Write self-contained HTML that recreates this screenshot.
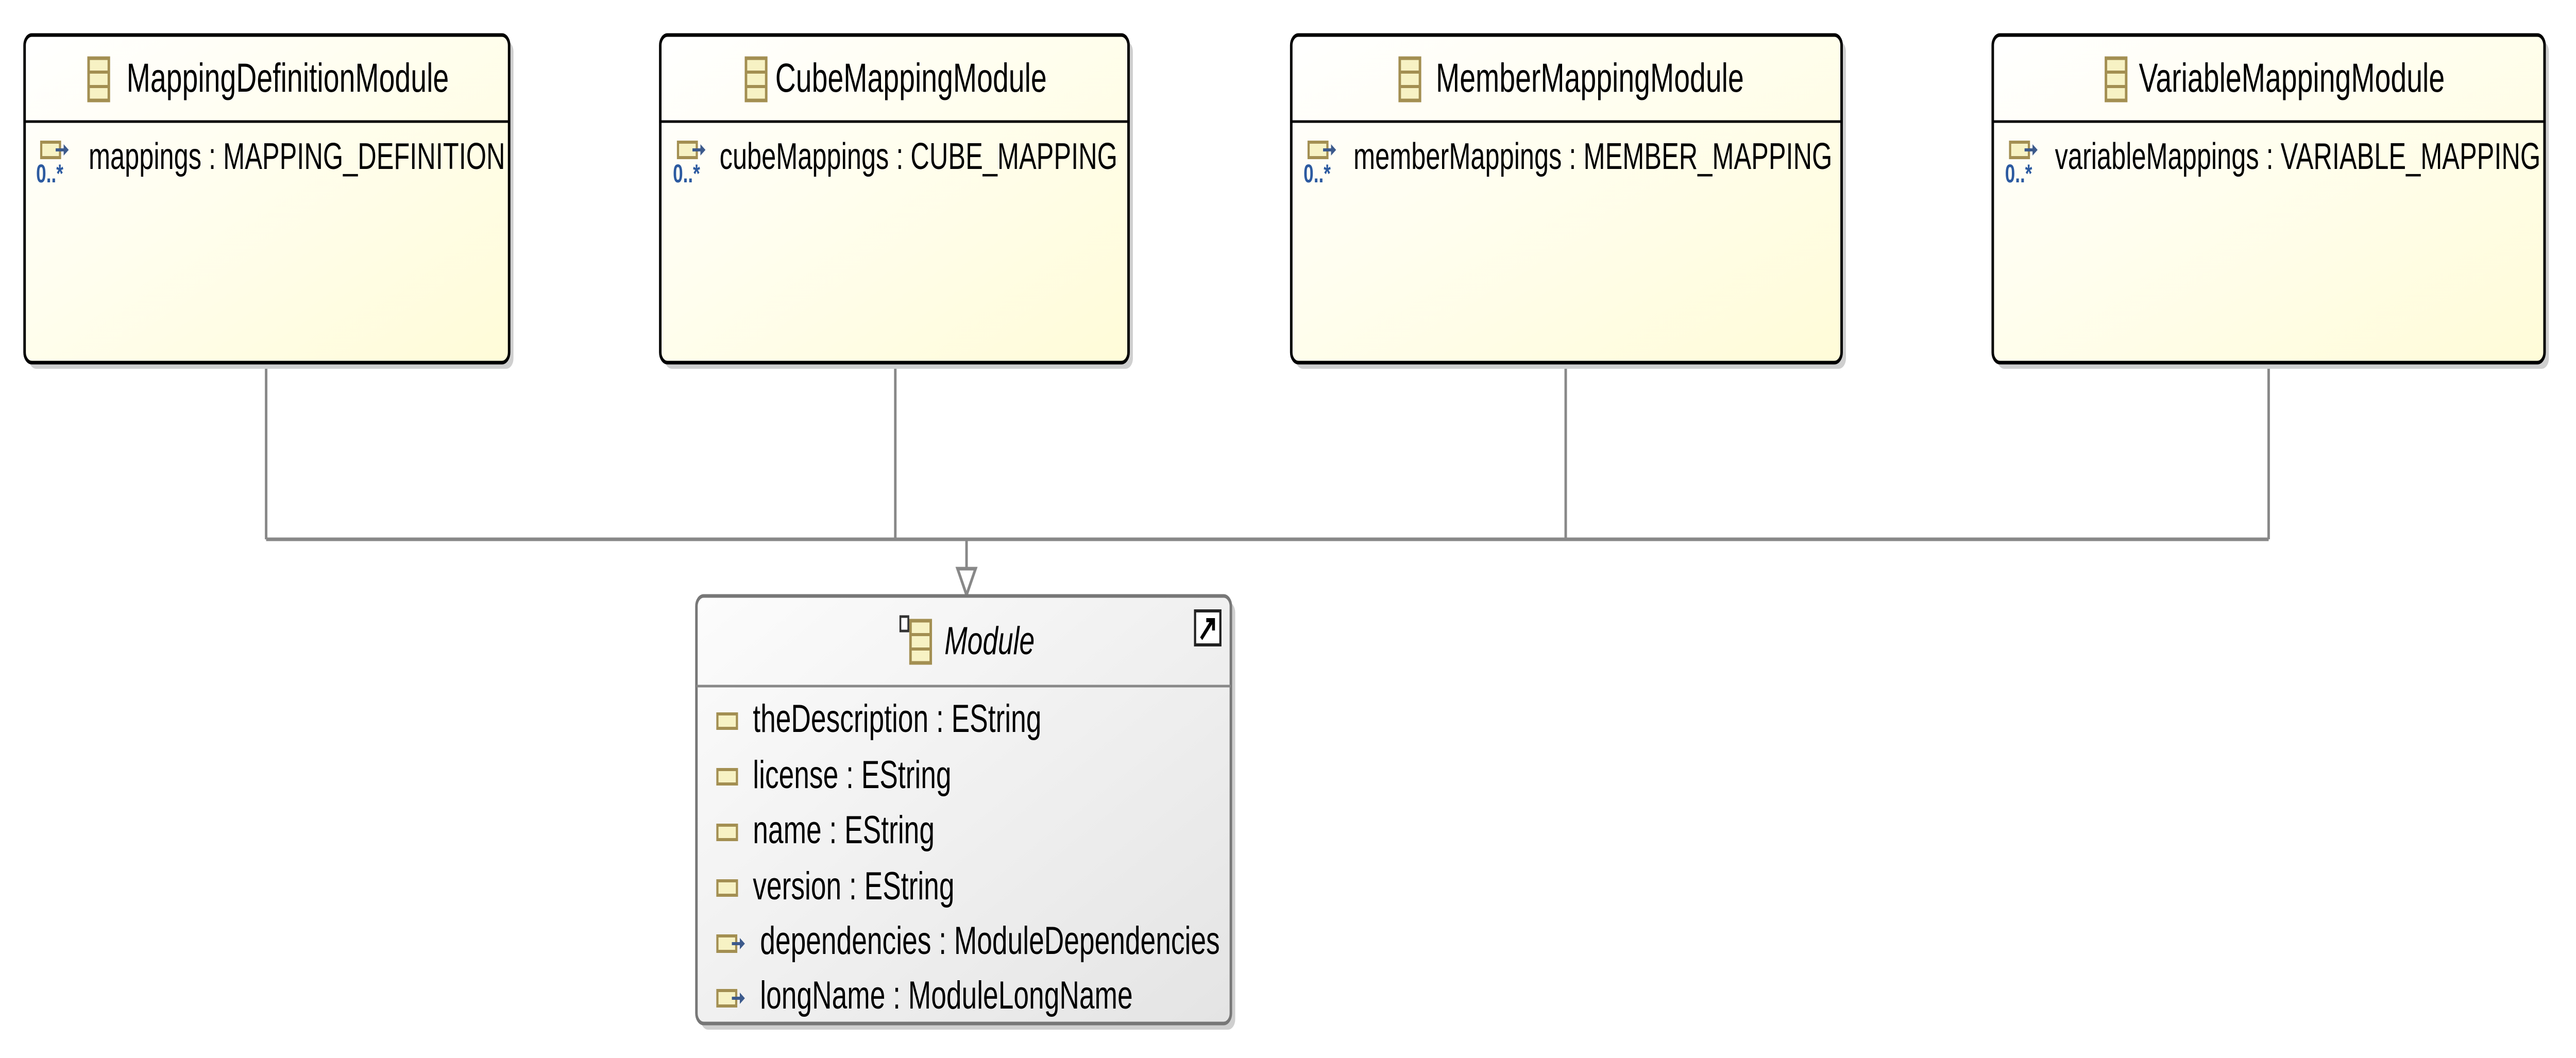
<!DOCTYPE html>
<html><head><meta charset="utf-8"><style>
html,body{margin:0;padding:0;background:#fff;width:100%;height:100%;overflow:hidden;}
svg{display:block;width:100vw;height:100vh;}
text{font-family:"Liberation Sans",sans-serif;font-size:76px;fill:#000;}
</style></head><body>
<svg viewBox="0 0 7124 2054" preserveAspectRatio="none" xmlns="http://www.w3.org/2000/svg">
<defs>
<linearGradient id="yg" x1="0" y1="0" x2="1" y2="1"><stop offset="0" stop-color="#ffffff"/><stop offset="1" stop-color="#fffcd8"/></linearGradient>
<linearGradient id="gg" x1="0" y1="0" x2="1" y2="1"><stop offset="0" stop-color="#fcfcfc"/><stop offset="1" stop-color="#e4e4e4"/></linearGradient>
<g id="cls">
<rect x="0" y="0" width="56" height="82" fill="#f7f2c4" stroke="#a38f52" stroke-width="7"/>
<line x1="0" y1="27" x2="56" y2="27" stroke="#a38f52" stroke-width="6"/>
<line x1="0" y1="55" x2="56" y2="55" stroke="#a38f52" stroke-width="6"/>
</g>
<g id="ref">
<rect x="0" y="0" width="52" height="30" fill="#f7f2c4" stroke="#a38f52" stroke-width="6"/>
<path d="M40 15 H70" stroke="#3c5a8c" stroke-width="6"/>
<path d="M62 4 L76 15 L62 26 Z" fill="#3c5a8c"/>
</g>
<g id="many">
<use href="#ref"/>
<text x="-14" y="78" style="font-size:50px;font-weight:bold;fill:#2c5aa0">0..*</text>
</g>
<g id="att"><rect x="0" y="0" width="54" height="28" fill="#f7f2c4" stroke="#a38f52" stroke-width="6"/></g>
</defs>

<g stroke="#888" stroke-width="7" fill="none">
<line x1="736" y1="706" x2="736" y2="1047"/>
<line x1="2476" y1="706" x2="2476" y2="1047"/>
<line x1="4330" y1="706" x2="4330" y2="1047"/>
<line x1="6274" y1="706" x2="6274" y2="1047"/>
<line x1="736" y1="1047" x2="6274" y2="1047"/>
<line x1="2673" y1="1047" x2="2673" y2="1104"/>
<path d="M2648 1104 L2698 1104 L2673 1155 Z" fill="#fff"/>
</g>

<g>
<rect x="80" y="80" width="1340" height="636" rx="20" fill="#cfcfcf"/>
<rect x="68" y="68" width="1340" height="636" rx="20" fill="url(#yg)" stroke="#000" stroke-width="7"/>
<line x1="68" y1="236" x2="1408" y2="236" stroke="#000" stroke-width="5"/>
<use href="#cls" x="245" y="113"/>
<text x="350" y="178" style="font-size:79px">MappingDefinitionModule</text>
<use href="#many" x="114" y="276"/>
<text x="245" y="328" style="font-size:72px">mappings : MAPPING_DEFINITION</text>
</g>
<g>
<rect x="1838" y="80" width="1295" height="636" rx="20" fill="#cfcfcf"/>
<rect x="1826" y="68" width="1295" height="636" rx="20" fill="url(#yg)" stroke="#000" stroke-width="7"/>
<line x1="1826" y1="236" x2="3121" y2="236" stroke="#000" stroke-width="5"/>
<use href="#cls" x="2063" y="113"/>
<text x="2144" y="178" style="font-size:79px">CubeMappingModule</text>
<use href="#many" x="1875" y="276"/>
<text x="1990" y="328" style="font-size:72px">cubeMappings : CUBE_MAPPING</text>
</g>
<g>
<rect x="3583" y="80" width="1522" height="636" rx="20" fill="#cfcfcf"/>
<rect x="3571" y="68" width="1522" height="636" rx="20" fill="url(#yg)" stroke="#000" stroke-width="7"/>
<line x1="3571" y1="236" x2="5093" y2="236" stroke="#000" stroke-width="5"/>
<use href="#cls" x="3871" y="113"/>
<text x="3971" y="178" style="font-size:79px">MemberMappingModule</text>
<use href="#many" x="3619" y="276"/>
<text x="3743" y="328" style="font-size:72px">memberMappings : MEMBER_MAPPING</text>
</g>
<g>
<rect x="5523" y="80" width="1526" height="636" rx="20" fill="#cfcfcf"/>
<rect x="5511" y="68" width="1526" height="636" rx="20" fill="url(#yg)" stroke="#000" stroke-width="7"/>
<line x1="5511" y1="236" x2="7037" y2="236" stroke="#000" stroke-width="5"/>
<use href="#cls" x="5824" y="113"/>
<text x="5915" y="178" style="font-size:79px">VariableMappingModule</text>
<use href="#many" x="5559" y="276"/>
<text x="5683" y="328" style="font-size:72px">variableMappings : VARIABLE_MAPPING</text>
</g>

<g>
<rect x="1938" y="1169" width="1478" height="830" rx="20" fill="#cfcfcf"/>
<rect x="1926" y="1157" width="1478" height="830" rx="20" fill="url(#gg)" stroke="#777" stroke-width="7"/>
<line x1="1926" y1="1332" x2="3404" y2="1332" stroke="#888" stroke-width="5"/>
<use href="#cls" x="2518" y="1205"/>
<rect x="2490" y="1197" width="22" height="28" fill="#fff" stroke="#333" stroke-width="5"/>
<text x="2612" y="1270" style="font-style:italic">Module</text>
<rect x="3305" y="1186" width="70" height="66" fill="#fff" stroke="#222" stroke-width="6"/>
<path d="M3322 1240 L3352 1206 M3336 1204 L3356 1204 L3356 1224" stroke="#000" stroke-width="8" fill="none"/>
<use href="#att" x="1984" y="1386"/>
<text x="2082" y="1421">theDescription : EString</text>
<use href="#att" x="1984" y="1494"/>
<text x="2082" y="1530">license : EString</text>
<use href="#att" x="1984" y="1602"/>
<text x="2082" y="1637">name : EString</text>
<use href="#att" x="1984" y="1710"/>
<text x="2082" y="1746">version : EString</text>
<use href="#ref" x="1984" y="1817"/>
<text x="2102" y="1852">dependencies : ModuleDependencies</text>
<use href="#ref" x="1984" y="1923"/>
<text x="2102" y="1958">longName : ModuleLongName</text>
</g>
</svg>
</body></html>
